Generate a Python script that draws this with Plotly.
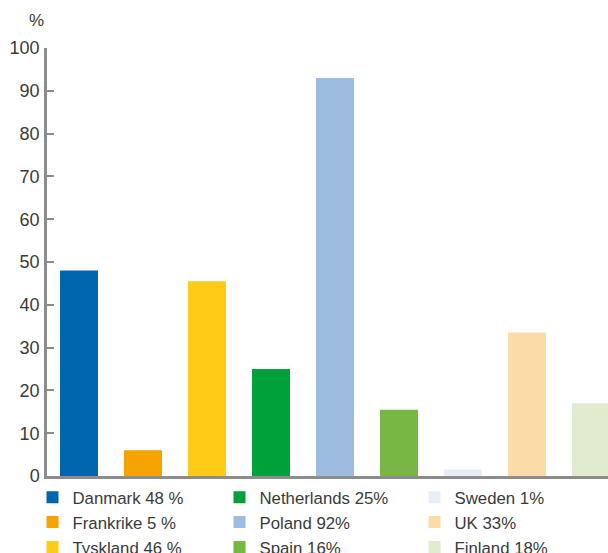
import plotly.graph_objects as go

countries = ["Danmark", "Frankrike", "Tyskland", "Netherlands", "Poland", "Spain", "Sweden", "UK", "Finland"]
values = [48, 6, 45.5, 25, 93, 15.5, 1.5, 33.5, 17]
labels = ["Danmark 48 %", "Frankrike 5 %", "Tyskland 46 %", "Netherlands 25%", "Poland 92%",
          "Spain 16%", "Sweden 1%", "UK 33%", "Finland 18%"]
colors = ["#0066AD", "#F5A300", "#FFCB17", "#00A13A", "#9EBBE0", "#76B843", "#E8EEF8", "#FCDCA6", "#E1ECCF"]
legend_ids = ["legend", "legend", "legend", "legend2", "legend2", "legend2", "legend3", "legend3", "legend3"]
yticks = [0, 10, 20, 30, 40, 50, 60, 70, 80, 90, 100]

W, H = 608, 553
ml, mr, mt, mb = 47, 0, 47.7, 77
pw = W - ml - mr
ph = H - mt - mb

FONT = "Liberation Sans, Arial, sans-serif"
AX = "#8c8c8c"
TXT = "#3a3a3a"

fig = go.Figure()
for i, c in enumerate(countries):
    fig.add_trace(go.Bar(
        x=[i], y=[values[i]], name=labels[i], width=0.594,
        marker=dict(color=colors[i], line=dict(width=0)),
        legend=legend_ids[i], showlegend=True,
    ))

def lx(px):
    return (px - ml) / pw

leg_top = -0.009
legend_common = dict(orientation="v", yanchor="top", y=leg_top, xanchor="left",
                     font=dict(family=FONT, size=16.8, color=TXT), bgcolor="rgba(0,0,0,0)",
                     borderwidth=0, traceorder="normal", itemwidth=30, tracegroupgap=0)

fig.update_layout(
    width=W, height=H,
    margin=dict(l=ml, r=mr, t=mt, b=mb, pad=0, autoexpand=False),
    paper_bgcolor="white", plot_bgcolor="white",
    barmode="overlay",
    showlegend=True,
    legend=dict(x=lx(32.5), **legend_common),
    legend2=dict(x=lx(219.5), **legend_common),
    legend3=dict(x=lx(414.5), **legend_common),
    xaxis=dict(range=[-0.5, 8.266], showline=True, linecolor=AX, linewidth=2.5,
               showticklabels=False, ticks="", showgrid=False, zeroline=False, fixedrange=True),
    yaxis=dict(range=[0, 100], tickvals=yticks, showline=True, linecolor=AX, linewidth=2.5,
               ticks="inside", ticklen=7, tickwidth=2, tickcolor=AX,
               showgrid=False, zeroline=False, ticklabelstandoff=1,
               tickfont=dict(family=FONT, size=18, color=TXT)),
    font=dict(family=FONT, color=TXT),
    annotations=[dict(text="%", xref="paper", yref="paper", x=lx(36), y=1 + (47.7 - 20) / ph,
                      xanchor="center", yanchor="middle", showarrow=False,
                      font=dict(family=FONT, size=17, color=TXT))],
)

fig.write_html("out.html")
